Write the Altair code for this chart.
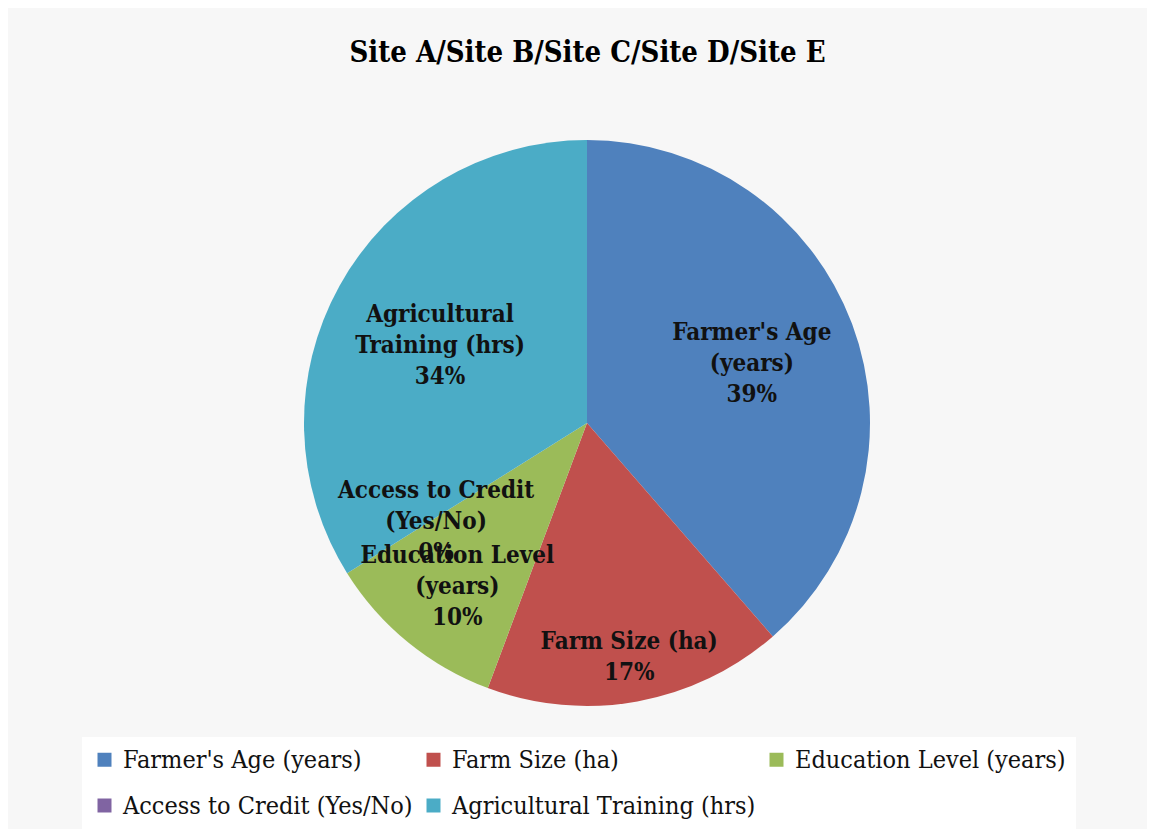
import altair as alt
import pandas as pd

categories = ["Farmer's Age (years)", "Farm Size (ha)", "Education Level (years)",
              "Access to Credit (Yes/No)", "Agricultural Training (hrs)"]
values = [38.6, 17.1, 10.4, 0.0, 33.9]
label_names = ["Farmer's Age\n(years)", "Farm Size (ha)", "Education Level\n(years)",
               "Access to Credit\n(Yes/No)", "Agricultural\nTraining (hrs)"]
colors = ["#4F81BD", "#C0504D", "#9BBB59", "#8064A2", "#4BACC6"]

total = sum(values)
df = pd.DataFrame({
    "category": categories,
    "value": values,
    "order": list(range(len(categories))),
    "label": [f"{n}\n{round(v / total * 100)}%" for n, v in zip(label_names, values)],
})

FONT = "DejaVu Serif Condensed, DejaVu Serif, serif"
CX, CY = 579, 343
R = 283
LH = 31

base = alt.Chart(df)

arc = base.mark_arc(outerRadius=R, stroke=None).encode(
    theta=alt.Theta("value:Q", stack=True),
    order=alt.Order("order:Q"),
    color=alt.Color("category:N", scale=alt.Scale(domain=categories, range=colors),
                    sort=categories,
                    legend=alt.Legend(title=None, orient="none", legendX=74, legendY=657,
                                      direction="horizontal",
                                      columns=3, symbolType="square", symbolSize=196,
                                      symbolStrokeWidth=0, labelFont=FONT, labelFontSize=25,
                                      labelColor="#111", labelOffset=6, columnPadding=8,
                                      rowPadding=20, fillColor="white", padding=10,
                                      labelLimit=400)),
    x=alt.value(CX), y=alt.value(CY),
)

def label_layer(cats, radius, nlines, shift):
    return base.transform_joinaggregate(
        tot="sum(value)"
    ).transform_window(
        cum="sum(value)", sort=[alt.SortField("order")], frame=[None, 0]
    ).transform_calculate(
        mid="(datum.cum - datum.value / 2) / datum.tot * 2 * PI"
    ).transform_filter(
        alt.FieldOneOfPredicate(field="category", oneOf=cats)
    ).mark_text(font=FONT, fontSize=24, fontWeight="bold", color="#111",
                lineBreak="\n", lineHeight=LH, align="center", baseline="middle",
                dy=-LH * (nlines - 1) / 2 + shift).encode(
        theta=alt.Theta("mid:Q", scale=None, stack=None),
        radius=alt.value(radius),
        text="label:N",
        x=alt.value(CX), y=alt.value(CY),
    )

labels = [
    label_layer([categories[0]], 176, 3, 3),
    label_layer([categories[4]], 168, 3, 4),
    label_layer([categories[3]], 178, 3, 5),
    label_layer([categories[1]], 237, 2, 1),
    label_layer([categories[2]], 205, 3, 5),
]

chart = alt.layer(arc, *labels).resolve_scale(theta="independent").properties(
    width=1139, height=745,
    title=alt.TitleParams("Site A/Site B/Site C/Site D/Site E", font=FONT, fontSize=29,
                          fontWeight="bold", color="#000", anchor="middle", dx=10, offset=12),
    padding={"left": 0, "top": 31, "right": 0, "bottom": 0},
    background="#f7f7f7",
).configure_view(stroke=None)

chart.save("out.html", embed_options={"renderer": "svg", "actions": False})
